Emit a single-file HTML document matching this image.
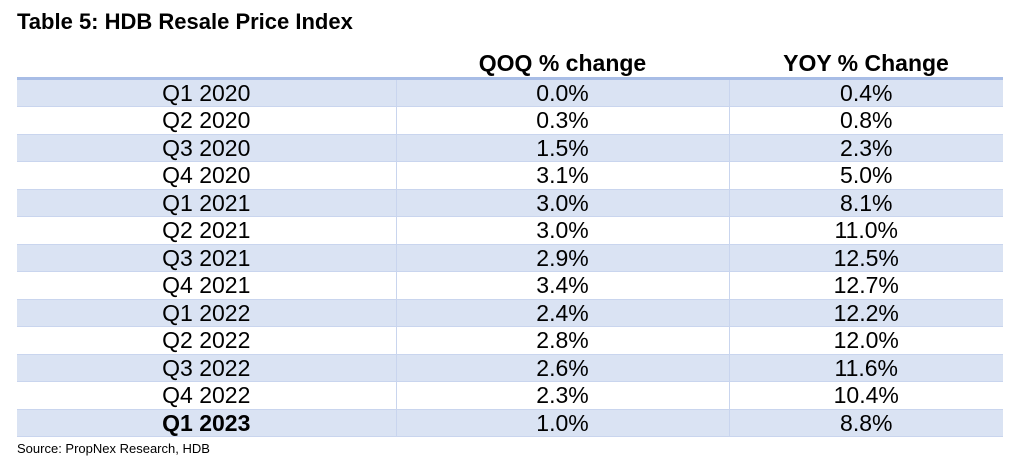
<!DOCTYPE html>
<html><head><meta charset="utf-8"><style>
body{margin:0;width:1024px;height:469px;background:#fff;font-family:"Liberation Sans",Arial,sans-serif;color:#000;position:relative;overflow:hidden}
#title{position:absolute;left:17px;top:9px;font-weight:bold;font-size:22px;line-height:26px}
table{position:absolute;left:17px;top:50px;width:986px;border-collapse:collapse;font-size:23px}
td,th{text-align:center;padding:0;height:26.5px;line-height:26.5px;border-left:1px solid #c9d5ee;border-bottom:1px solid #c9d5ee;box-sizing:border-box}
td:first-child,th:first-child{border-left:none}
th{font-weight:bold;border:none;border-bottom:3px solid #a8bde6;height:28px;line-height:26px}
tr.s td{background:#dae3f3}
#src{position:absolute;left:17px;top:441px;font-size:13px}
</style></head><body>
<div id="title">Table 5: HDB Resale Price Index</div>
<table>
<colgroup><col style="width:379px"><col style="width:333px"><col style="width:274px"></colgroup>
<tr><th></th><th>QOQ % change</th><th>YOY % Change</th></tr>
<tr class="s"><td>Q1 2020</td><td>0.0%</td><td>0.4%</td></tr>
<tr><td>Q2 2020</td><td>0.3%</td><td>0.8%</td></tr>
<tr class="s"><td>Q3 2020</td><td>1.5%</td><td>2.3%</td></tr>
<tr><td>Q4 2020</td><td>3.1%</td><td>5.0%</td></tr>
<tr class="s"><td>Q1 2021</td><td>3.0%</td><td>8.1%</td></tr>
<tr><td>Q2 2021</td><td>3.0%</td><td>11.0%</td></tr>
<tr class="s"><td>Q3 2021</td><td>2.9%</td><td>12.5%</td></tr>
<tr><td>Q4 2021</td><td>3.4%</td><td>12.7%</td></tr>
<tr class="s"><td>Q1 2022</td><td>2.4%</td><td>12.2%</td></tr>
<tr><td>Q2 2022</td><td>2.8%</td><td>12.0%</td></tr>
<tr class="s"><td>Q3 2022</td><td>2.6%</td><td>11.6%</td></tr>
<tr><td>Q4 2022</td><td>2.3%</td><td>10.4%</td></tr>
<tr class="s"><td><b>Q1 2023</b></td><td>1.0%</td><td>8.8%</td></tr>
</table>
<div id="src">Source: PropNex Research, HDB</div>
</body></html>
